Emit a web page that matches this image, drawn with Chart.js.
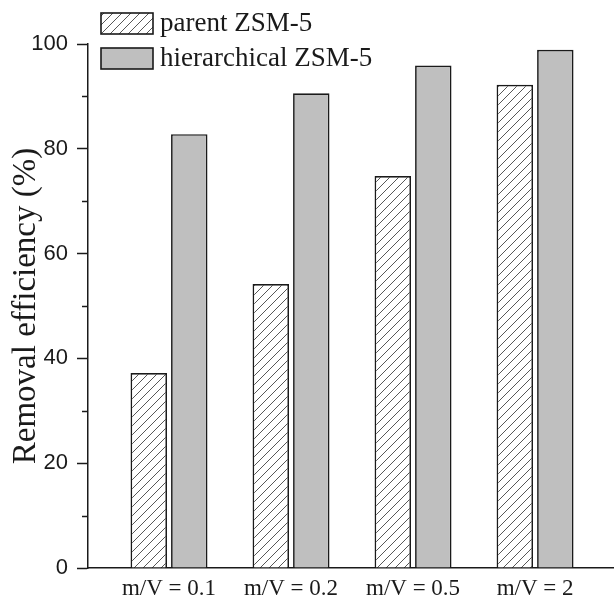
<!DOCTYPE html>
<html>
<head>
<meta charset="utf-8">
<title>Removal efficiency</title>
<script src="https://cdn.jsdelivr.net/npm/chart.js@4.4.1/dist/chart.umd.min.js"></script>
<style>
  html, body { margin: 0; padding: 0; background: #fff; }
  #wrap { width: 614px; height: 600px; }
</style>
</head>
<body>
<div id="wrap"><canvas id="removalChart" width="614" height="600"></canvas></div>
<script>
// values
var groupLabels = ['m/V = 0.1', 'm/V = 0.2', 'm/V = 0.5', 'm/V = 2'];
var groupPositions = [1, 2, 3, 4];
var parentValues = [37.2, 54.2, 74.8, 92.2];
var hierarchicalValues = [82.8, 90.6, 95.9, 98.9];
var seriesNames = ['parent ZSM-5', 'hierarchical ZSM-5'];
var yMinorTicks = [10, 30, 50, 70, 90];

var ink = '#1a1a1a';
var serif = '"Liberation Serif", "Times New Roman", serif';
var sans = '"Liberation Sans", Arial, sans-serif';

var canvas = document.getElementById('removalChart');
var ctx = canvas.getContext('2d');

// diagonal hatch for the parent bars
function makeHatch() {
  var size = 9;
  var tile = document.createElement('canvas');
  tile.width = size;
  tile.height = size;
  var g = tile.getContext('2d');
  g.fillStyle = '#fff';
  g.fillRect(0, 0, size, size);
  g.strokeStyle = '#444';
  g.lineWidth = 0.9;
  g.beginPath();
  g.moveTo(0, size); g.lineTo(size, 0);
  g.moveTo(-size, size); g.lineTo(size, -size);
  g.moveTo(0, 2 * size); g.lineTo(2 * size, 0);
  g.stroke();
  return ctx.createPattern(tile, 'repeat');
}
var hatch = makeHatch();

function toPoints(values) {
  return groupPositions.map(function (x, i) {
    return { x: x, y: values[i] };
  });
}

// short minor ticks between the labelled ones
var minorTicksPlugin = {
  id: 'minorTicks',
  afterDraw: function (chart) {
    var y = chart.scales.y;
    var c = chart.ctx;
    c.save();
    c.strokeStyle = ink;
    c.lineWidth = 1.5;
    yMinorTicks.forEach(function (v) {
      var py = Math.round(y.getPixelForValue(v)) + 0.5;
      c.beginPath();
      c.moveTo(y.right - 6, py);
      c.lineTo(y.right, py);
      c.stroke();
    });
    c.restore();
  }
};

// legend drawn in the top-left corner, overlapping the plot top
var cornerLegendPlugin = {
  id: 'cornerLegend',
  afterDraw: function (chart) {
    var c = chart.ctx;
    c.save();
    c.font = '27px ' + serif;
    c.textBaseline = 'middle';
    chart.data.datasets.forEach(function (ds, i) {
      var top = 13 + i * 35;
      c.fillStyle = ds.backgroundColor;
      c.fillRect(101, top, 52, 21);
      c.strokeStyle = ink;
      c.lineWidth = 1.6;
      c.strokeRect(101, top, 52, 21);
      c.fillStyle = ink;
      c.fillText(ds.label, 160, top + 11);
    });
    c.restore();
  }
};

var removalChart = new Chart(ctx, {
  type: 'bar',
  data: {
    datasets: [{
      label: seriesNames[0],
      data: toPoints(parentValues),
      backgroundColor: hatch,
      borderColor: ink,
      borderWidth: 1.7
    }, {
      label: seriesNames[1],
      data: toPoints(hierarchicalValues),
      backgroundColor: '#bfbfbf',
      borderColor: ink,
      borderWidth: 1.7
    }]
  },
  options: {
    responsive: false,
    animation: false,
    categoryPercentage: 0.664,
    barPercentage: 0.9,
    layout: { padding: { top: 44, right: 0, left: 0, bottom: 0 } },
    plugins: {
      legend: { display: false },
      tooltip: { enabled: false }
    },
    scales: {
      x: {
        type: 'linear',
        min: 0.336,
        max: 4.647,
        offset: false,
        afterBuildTicks: function (scale) {
          scale.ticks = groupPositions.map(function (v) { return { value: v }; });
        },
        afterFit: function (scale) { scale.height = 32; },
        ticks: {
          autoSkip: false,
          maxRotation: 0,
          padding: 7,
          color: ink,
          font: { family: serif, size: 23 },
          callback: function (v) { return groupLabels[groupPositions.indexOf(v)]; }
        },
        grid: { display: true, drawOnChartArea: false, drawTicks: false, offset: false },
        border: { display: true, color: ink, width: 1.5 }
      },
      y: {
        min: 0,
        max: 100,
        afterFit: function (scale) { scale.width = 88; },
        ticks: {
          stepSize: 20,
          padding: 9,
          color: ink,
          font: { family: sans, size: 22 }
        },
        title: {
          display: true,
          text: 'Removal efficiency (%)',
          color: ink,
          font: { family: serif, size: 33 },
          padding: { top: 7, bottom: 0 }
        },
        grid: { drawOnChartArea: false, drawTicks: true, tickLength: 11, tickWidth: 1.5, tickColor: ink },
        border: { display: true, color: ink, width: 1.5 }
      }
    }
  },
  plugins: [minorTicksPlugin, cornerLegendPlugin]
});
</script>
</body>
</html>
